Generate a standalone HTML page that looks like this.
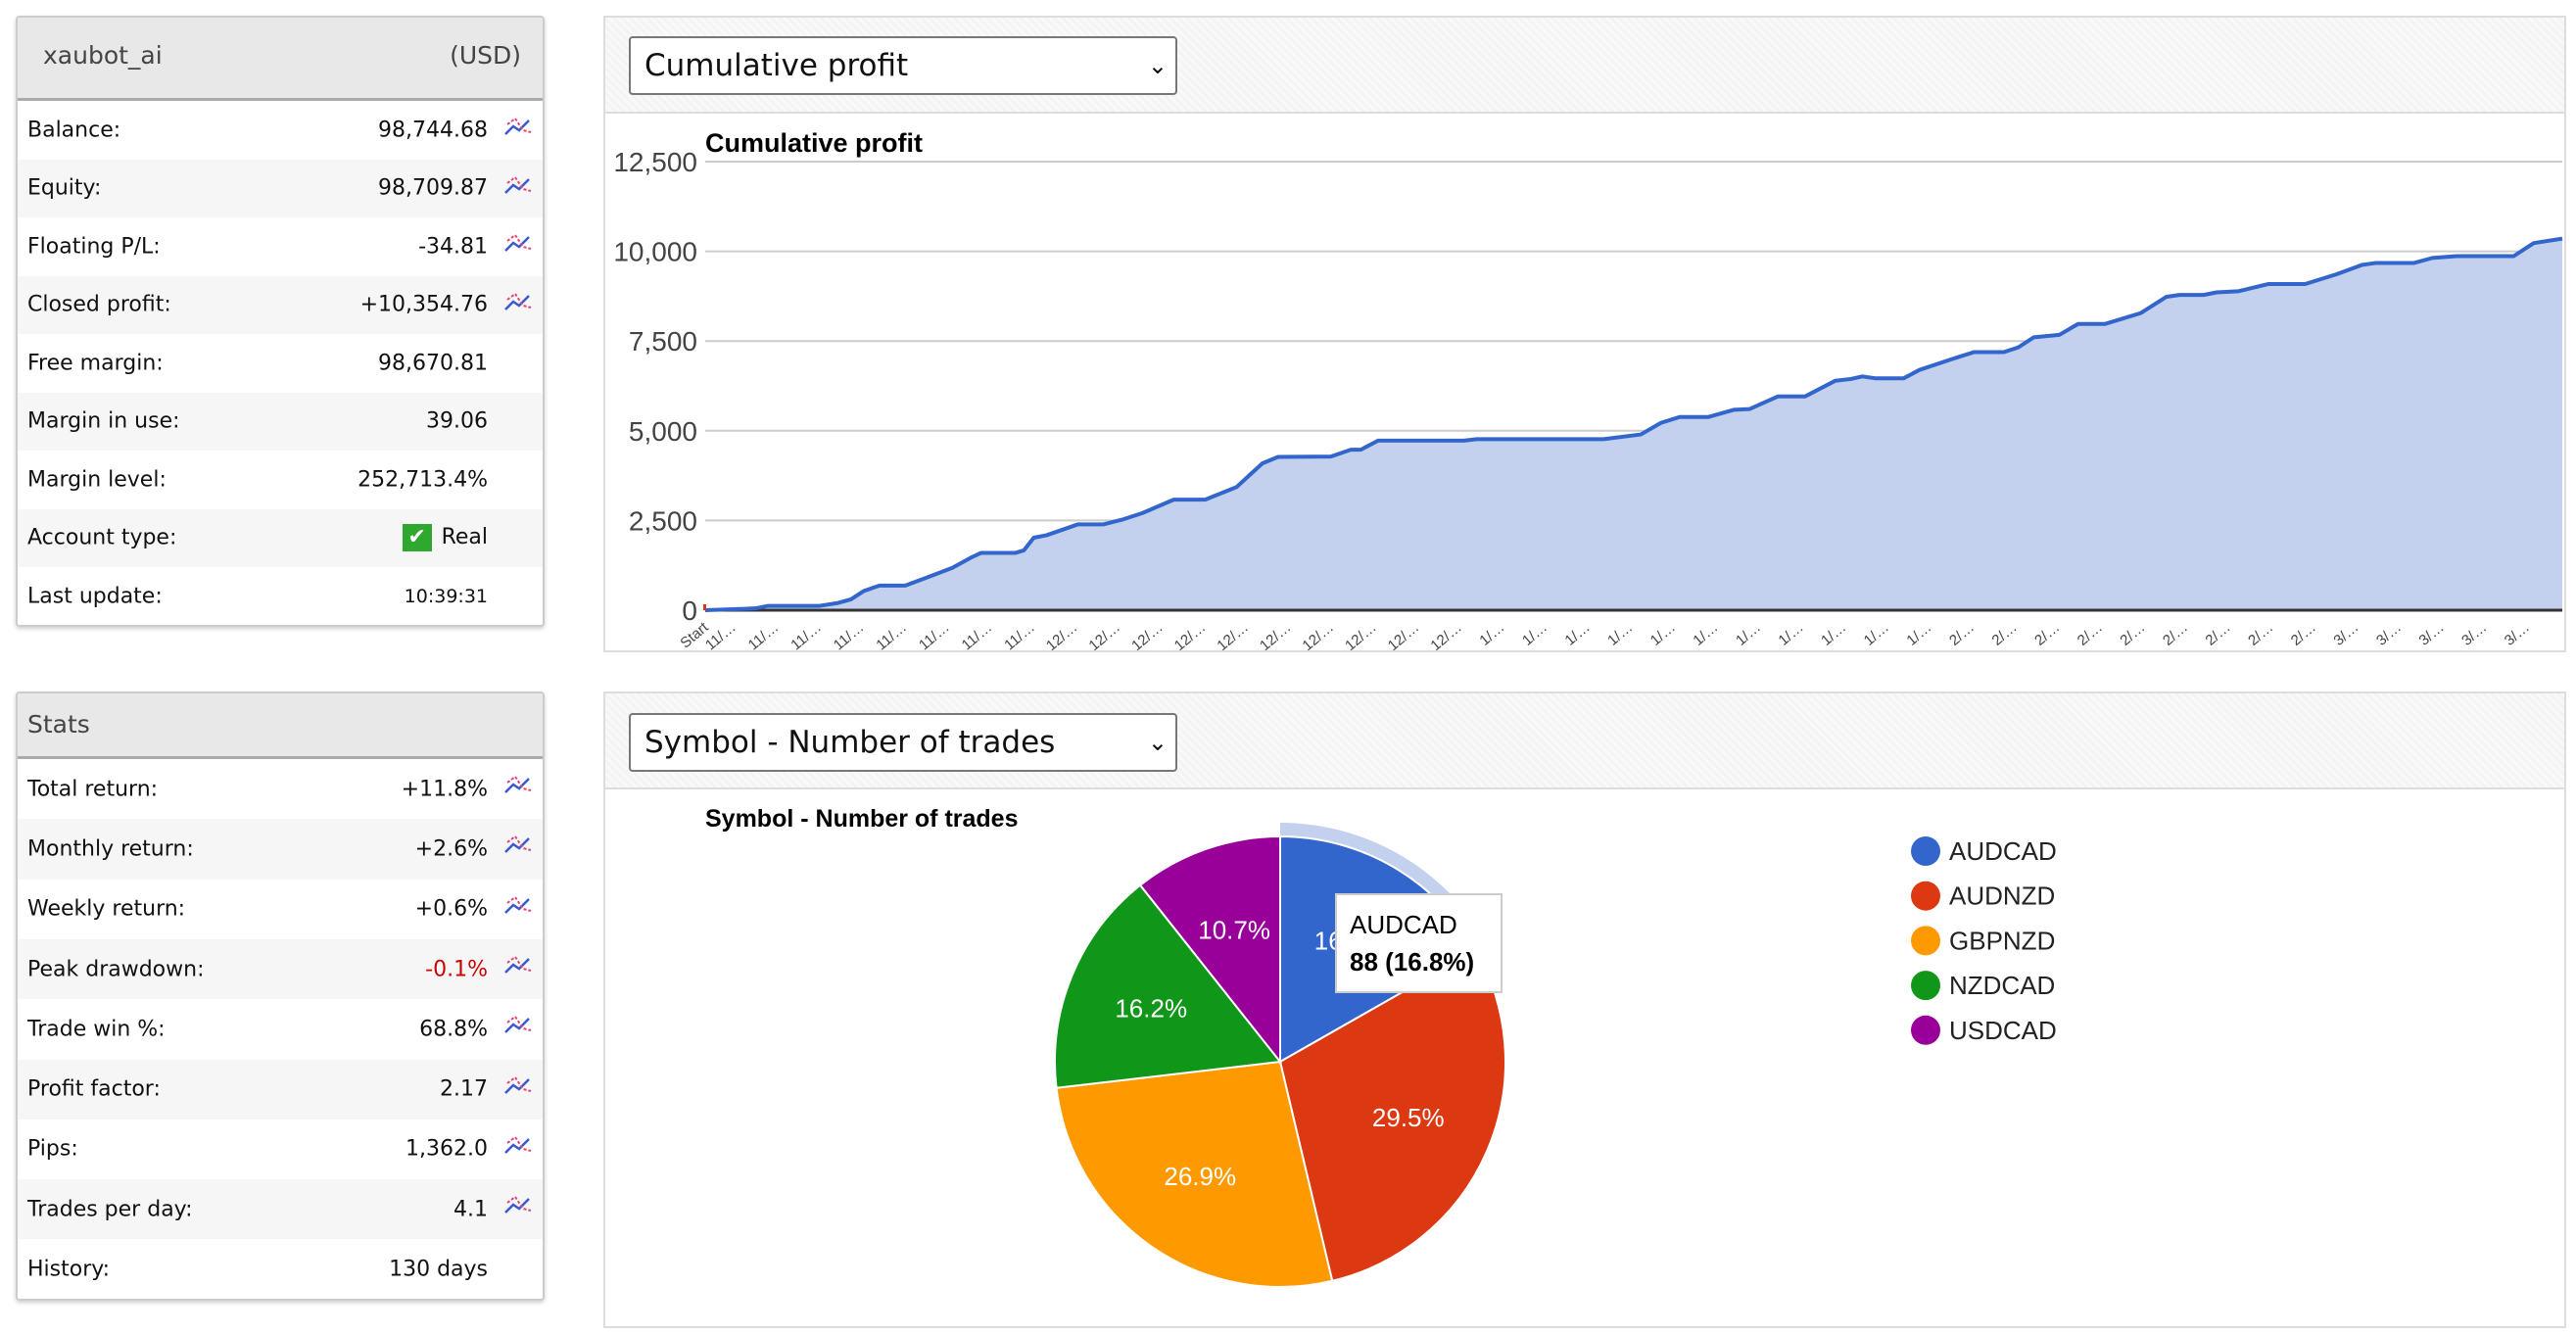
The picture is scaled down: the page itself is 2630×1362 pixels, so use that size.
<!DOCTYPE html>
<html><head><meta charset="utf-8">
<style>
body{margin:0;width:2630px;height:1362px;background:#fff;position:relative;overflow:hidden;font-family:"DejaVu Sans","Liberation Sans",sans-serif;}
.panel{position:absolute;border:2px solid #ccc;border-radius:4px;box-shadow:0 2px 4px rgba(0,0,0,.2);background:#fff;overflow:hidden}
.hdr{position:absolute;left:0;right:0;top:0;background:#e8e8e8;border-bottom:3px solid #aaa;color:#444;font-size:25px}
.row{position:absolute;left:0;right:0;height:60px;font-size:22px;color:#111}
.row .l{position:absolute;left:10px;top:50%;transform:translateY(-50%)}
.row .v{position:absolute;right:56px;top:50%;transform:translateY(-50%)}
.row svg{position:absolute;right:10px;top:14px}
.cp{position:absolute;border:2px solid #ddd;background:#fff}
.bar{position:absolute;left:0;right:0;top:0;background:repeating-linear-gradient(45deg,#f4f4f4 0 3px,#f9f9f9 3px 6px);border-bottom:2px solid #ddd}
.dd{position:absolute;left:24px;width:560px;height:60px;border:2px solid #777;border-radius:4px;background:#fff;font-size:31px;color:#111;box-sizing:border-box;padding-left:14px;line-height:56px}
.dd span{position:absolute;right:8px;top:0;font-size:24px}
</style></head><body>

<div class="panel" style="left:16px;top:16px;width:536px;height:620px">
 <div class="hdr" style="height:82px">
  <span style="position:absolute;left:26px;top:24px">xaubot_ai</span>
  <span style="position:absolute;right:22px;top:24px">(USD)</span>
 </div>
 <div id="acc" style="position:absolute;left:0;right:0;top:85px"></div>
</div>

<div class="panel" style="left:16px;top:706px;width:536px;height:618px">
 <div class="hdr" style="height:64px">
  <span style="position:absolute;left:10px;top:17px">Stats</span>
 </div>
 <div id="stats" style="position:absolute;left:0;right:0;top:67px"></div>
</div>

<div class="cp" style="left:616px;top:16px;width:2000px;height:646px">
 <div class="bar" style="height:96px"></div>
 <div class="dd" style="top:19px">Cumulative profit<span>&#8964;</span></div>
 <svg id="cum" width="2000" height="646" style="position:absolute;left:0;top:0"></svg>
</div>

<div class="cp" style="left:616px;top:706px;width:2000px;height:646px">
 <div class="bar" style="height:96px"></div>
 <div class="dd" style="top:20px">Symbol - Number of trades<span>&#8964;</span></div>
 <svg id="pie" width="2000" height="646" style="position:absolute;left:0;top:0"></svg>
</div>

<script>
const NS="http://www.w3.org/2000/svg";
function mk(p,t,a){const e=document.createElementNS(NS,t);for(const k in a)e.setAttribute(k,a[k]);p.appendChild(e);return e;}
const icon='<svg width="30" height="24" viewBox="0 0 30 24"><polyline points="2,20 10,12 16,16 26,6" fill="none" stroke="#3a5bd0" stroke-width="2.5"/><polyline points="4,10 12,4 20,16 28,18" fill="none" stroke="#e0457a" stroke-width="2" stroke-dasharray="3,2"/></svg>';
const accLabels=["Balance:","Equity:","Floating P/L:","Closed profit:","Free margin:","Margin in use:","Margin level:","Account type:","Last update:"];
const accValues=["98,744.68","98,709.87","-34.81","+10,354.76","98,670.81","39.06","252,713.4%","Real","10:39:31"];
const accIcons=[1,1,1,1,0,0,0,0,0];
const stLabels=["Total return:","Monthly return:","Weekly return:","Peak drawdown:","Trade win %:","Profit factor:","Pips:","Trades per day:","History:"];
const stValues=["+11.8%","+2.6%","+0.6%","-0.1%","68.8%","2.17","1,362.0","4.1","130 days"];
const stIcons=[1,1,1,1,1,1,1,1,0];
function rows(id,L,V,I,h,pref){
 const c=document.getElementById(id);
 L.forEach((l,i)=>{
  const r=document.createElement('div');r.className='row';
  
  
  r.style.top=(i*h)+'px';r.style.height=h+'px';
  r.style.background=i%2?'#f6f6f6':'#fff';
  let v=V[i];
  let vs='';
  if(v==="Real") v='<span style="display:inline-block;width:30px;height:28px;background:#2ea82e;color:#fff;text-align:center;line-height:28px;font-size:22px;vertical-align:middle;margin-right:10px">&#10004;</span>Real';
  if(V[i]==="-0.1%") vs='color:#c00;';
  if(V[i]==="10:39:31") vs='font-size:19px;';
  r.innerHTML='<span class="l">'+l+'</span><span class="v" style="'+vs+'">'+v+'</span>'+(I[i]?icon:'');
  c.appendChild(r);
 });
}
rows('acc',accLabels,accValues,accIcons,59.5,'account');
rows('stats',stLabels,stValues,stIcons,61.3,'stats');

const cumDays=[0,3.5,4.4,8,9.3,10.2,11.1,12.2,14,15.5,17.3,18.6,19.3,21.7,22.3,23,23.9,26.1,27.9,29.2,30.6,32.8,35,37.2,39,40.1,43.8,45.2,45.9,47.1,53.1,54,62.9,65.5,66.9,68.2,70.2,72,73.1,75.1,77,79.1,80.2,81,81.9,83.9,85,87.2,88.8,90.9,91.9,93,94.8,96.1,98,100.5,102.3,103.2,104.9,105.8,107.3,109.4,112,114.2,116,116.9,119.6,120.9,122.6,126.6,128,130];
const cumValues=[0,50,121,121,202,303,535,687,687,909,1181,1464,1595,1595,1666,2019,2090,2393,2393,2524,2706,3080,3080,3433,4090,4272,4282,4473,4473,4726,4726,4766,4766,4897,5220,5382,5382,5584,5604,5958,5958,6392,6443,6514,6463,6463,6695,6988,7190,7190,7321,7604,7674,7977,7977,8280,8734,8785,8785,8856,8886,9088,9088,9361,9623,9674,9674,9815,9866,9866,10230,10354];
const yTicks=[0,2500,5000,7500,10000,12500];
const yTickLabels=["0","2,500","5,000","7,500","10,000","12,500"];
const xLabels=["Start"].concat(Array(8).fill("11/…"),Array(10).fill("12/…"),Array(11).fill("1/…"),Array(9).fill("2/…"),Array(5).fill("3/…"));
const cum=document.getElementById('cum');
const px0=102,px1=1998,py0=605,py1=147,dayMax=130,vMax=12500;
const X=d=>px0+(d/dayMax)*(px1-px0);
const Y=v=>py0-(v/vMax)*(py0-py1);
yTicks.forEach((t,i)=>{
 const g=mk(cum,'line',{x1:px0,x2:px1,y1:Y(t),y2:Y(t),stroke:t===0?'#333':'#ccc','stroke-width':t===0?3:2});
 
 
 const tx=mk(cum,'text',{x:px0-8,y:Y(t)+10,'text-anchor':'end','font-size':28,fill:'#444','font-family':'Liberation Sans,sans-serif'});
 tx.textContent=yTickLabels[i];
 
 
});
let pts=cumDays.map((d,i)=>X(d)+','+Y(cumValues[i])).join(' ');
const area=mk(cum,'polygon',{points:X(0)+','+Y(0)+' '+pts+' '+X(cumDays[cumDays.length-1])+','+Y(0),fill:'#c3d1ee'});


mk(cum,'line',{x1:px0,x2:px1,y1:Y(0),y2:Y(0),stroke:'#333','stroke-width':3});
const line=mk(cum,'polyline',{points:pts,fill:'none',stroke:'#3366cc','stroke-width':4,'stroke-linejoin':'round'});


mk(cum,'rect',{x:px0-2,y:Y(0)-6,width:3,height:6,fill:'#dc3912'});
xLabels.forEach((l,i)=>{
 const x=i===0?px0+4:px0+32+(i-1)*43.6;
 const t=mk(cum,'text',{x:x,y:624,'text-anchor':'end','font-size':15,fill:'#444','font-family':'Liberation Sans,sans-serif',transform:'rotate(-40 '+x+' 624)'});
 t.textContent=l;
 
 
});
const ct=mk(cum,'text',{x:102,y:137,'font-size':27,'font-weight':'bold',fill:'#000','font-family':'Liberation Sans,sans-serif'});
ct.textContent="Cumulative profit";



const symbols=["AUDCAD","AUDNZD","GBPNZD","NZDCAD","USDCAD"];
const trades=[88,155,141,85,56];
const colors=["#3366cc","#dc3912","#ff9900","#109618","#990099"];
const pie=document.getElementById('pie');
const cx=689,cy=376,R=230;
const total=trades.reduce((a,b)=>a+b,0);
function pt(a,r){return [cx+r*Math.sin(a),cy-r*Math.cos(a)];}
let a0=0;
trades.forEach((n,i)=>{
 const a1=a0+n/total*2*Math.PI;
 const p0=pt(a0,R),p1=pt(a1,R);
 const large=(a1-a0)>Math.PI?1:0;
 if(i===0){
  const q0=pt(a0,R+14),q1=pt(a1,R+14);
  const ring=mk(pie,'path',{d:`M${p0} L${q0} A${R+14},${R+14} 0 ${large} 1 ${q1} L${p1} A${R},${R} 0 ${large} 0 ${p0}Z`,fill:'#c3d1ee'});
  
  
 }
 const s=mk(pie,'path',{d:`M${cx},${cy} L${p0} A${R},${R} 0 ${large} 1 ${p1}Z`,fill:colors[i],stroke:'#fff','stroke-width':2});
 
 
 const m=(a0+a1)/2,lp=pt(m,R*0.62);
 const t=mk(pie,'text',{x:lp[0],y:lp[1]+9,'text-anchor':'middle','font-size':26,fill:'#fff','font-family':'Liberation Sans,sans-serif'});
 t.textContent=(n/total*100).toFixed(1)+'%';
 
 
 const ly=161+i*45.7;
 const c=mk(pie,'circle',{cx:1348,cy:ly,r:15,fill:colors[i]});
 
 
 const lt=mk(pie,'text',{x:1372,y:ly+9,'font-size':26,fill:'#222','font-family':'Liberation Sans,sans-serif'});
 lt.textContent=symbols[i];
 
 
 a0=a1;
});
const pt2=mk(pie,'text',{x:102,y:136,'font-size':25,'font-weight':'bold',fill:'#000','font-family':'Liberation Sans,sans-serif'});
pt2.textContent="Symbol - Number of trades";


const tip=mk(pie,'g',{});


mk(tip,'rect',{x:746,y:205,width:169,height:100,fill:'#fff',stroke:'#ccc','stroke-width':2});
const t1=mk(tip,'text',{x:760,y:245,'font-size':26,fill:'#000','font-family':'Liberation Sans,sans-serif'});t1.textContent=symbols[0];
const t2=mk(tip,'text',{x:760,y:283,'font-size':26,'font-weight':'bold',fill:'#000','font-family':'Liberation Sans,sans-serif'});t2.textContent=trades[0]+' ('+(trades[0]/total*100).toFixed(1)+'%)';
</script>
</body></html>
